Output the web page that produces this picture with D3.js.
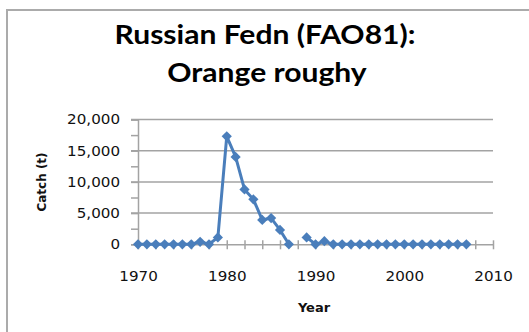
<!DOCTYPE html>
<html>
<head>
<meta charset="utf-8">
<script src="https://cdn.jsdelivr.net/npm/d3@7"></script>
<style>
  html, body { margin: 0; padding: 0; background: #fff; }
  svg { display: block; }
</style>
</head>
<body>
<svg id="chart" width="529" height="332"></svg>
<script>
// Russian Federation catch of orange roughy in FAO area 81, tonnes per year
const years = d3.range(1970, 2008);
const catchTonnes = [
  0, 0, 0, 0, 0, 0, 0, 400, 0, 1100,      // 1970-1979
  17300, 14000, 8800, 7200, 3900, 4200, 2300, 0, null, 1100, // 1980-1989
  0, 500, 0, 0, 0, 0, 0, 0, 0, 0,          // 1990-1999
  0, 0, 0, 0, 0, 0, 0, 0                   // 2000-2007
];
const titleLines = ["Russian Fedn (FAO81):", "Orange roughy"];
const xLabel = "Year";
const yLabel = "Catch (t)";
const xTicks = d3.range(1970, 2011, 2);
const yTicks = d3.range(0, 20001, 2500);

const data = years.map((y, i) => ({ year: y, value: catchTonnes[i] }));

const svg = d3.select("#chart");
const blue = "#4a7ebb";
const grey = "#a3a3a3";

// chart frame
svg.append("rect")
  .attr("x", 7).attr("y", 10)
  .attr("width", 560).attr("height", 360)
  .attr("fill", "#fff")
  .attr("stroke", "#ababab").attr("stroke-width", 2);

const x = d3.scaleLinear().domain([1970, 2010]).range([138, 493]);
const y = d3.scaleLinear().domain([0, 20000]).range([244.3, 119.5]);

// title
const title = svg.append("g").attr("font-family", "Lato, 'Open Sans', sans-serif")
  .attr("font-weight", "bold").attr("font-size", 27).attr("fill", "#000")
  .attr("text-anchor", "middle");
const t1 = title.append("text").attr("x", 265).attr("y", 43.5).text(titleLines[0]);
const t2 = title.append("text").attr("x", 267).attr("y", 82).text(titleLines[1]);
const stretch = 301 / t1.node().getComputedTextLength();
[t1, t2].forEach(t => {
  const w = t.node().getComputedTextLength();
  t.attr("textLength", w * stretch).attr("lengthAdjust", "spacingAndGlyphs");
});

// horizontal gridlines
svg.append("g").selectAll("line")
  .data(yTicks.filter(v => v > 0 && v % 5000 === 0))
  .join("line")
  .attr("x1", 131).attr("x2", x(2010))
  .attr("y1", d => y(d)).attr("y2", d => y(d))
  .attr("stroke", grey).attr("stroke-width", 1.5);

// y axis
const yAxis = svg.append("g")
  .attr("transform", `translate(${x(1970)},0)`)
  .call(d3.axisLeft(y).tickValues(yTicks).tickSize(7).tickPadding(11)
    .tickFormat(v => v % 5000 === 0 ? d3.format(",")(v) : ""));
yAxis.select(".domain").attr("stroke", grey).attr("stroke-width", 1.5);
yAxis.selectAll(".tick line").attr("stroke", grey).attr("stroke-width", 1.5);

// x axis with crossing ticks
const xAxis = svg.append("g")
  .attr("transform", `translate(0,${y(0)})`)
  .call(d3.axisBottom(x).tickValues(xTicks).tickSizeOuter(0).tickSize(0).tickPadding(27)
    .tickFormat(v => v % 10 === 0 ? String(v) : ""));
xAxis.select(".domain").attr("stroke", grey).attr("stroke-width", 1.5);
xAxis.selectAll(".tick line").attr("y1", -4).attr("y2", 5)
  .attr("stroke", grey).attr("stroke-width", 1.5);

[yAxis, xAxis].forEach(a => {
  a.selectAll("text")
    .attr("font-family", "'DejaVu Sans', Verdana, sans-serif")
    .attr("font-size", 14).attr("fill", "#111")
    .each(function () {
      const w = this.getComputedTextLength();
      if (w > 0) d3.select(this).attr("textLength", w * 1.08).attr("lengthAdjust", "spacingAndGlyphs");
    });
});

// axis titles
svg.append("text")
  .attr("transform", "translate(46,182) rotate(-90)")
  .attr("text-anchor", "middle")
  .attr("font-family", "'DejaVu Sans', sans-serif").attr("font-weight", "bold")
  .attr("font-size", 12).attr("fill", "#111")
  .text(yLabel);
svg.append("text")
  .attr("x", 314).attr("y", 311.5)
  .attr("text-anchor", "middle")
  .attr("font-family", "'DejaVu Sans', sans-serif").attr("font-weight", "bold")
  .attr("font-size", 13).attr("fill", "#111")
  .text(xLabel);

// series line (gap where no catch was reported)
const line = d3.line()
  .defined(d => d.value !== null)
  .x(d => x(d.year)).y(d => y(d.value));
svg.append("path")
  .datum(data)
  .attr("fill", "none").attr("stroke", blue)
  .attr("stroke-width", 3).attr("stroke-linejoin", "round")
  .attr("d", line);

// diamond markers
const diamond = d3.symbol().type(d3.symbolSquare).size(52);
svg.append("g").selectAll("path")
  .data(data.filter(d => d.value !== null))
  .join("path")
  .attr("transform", d => `translate(${x(d.year)},${y(d.value)}) rotate(45)`)
  .attr("d", diamond)
  .attr("fill", blue);
</script>
</body>
</html>
